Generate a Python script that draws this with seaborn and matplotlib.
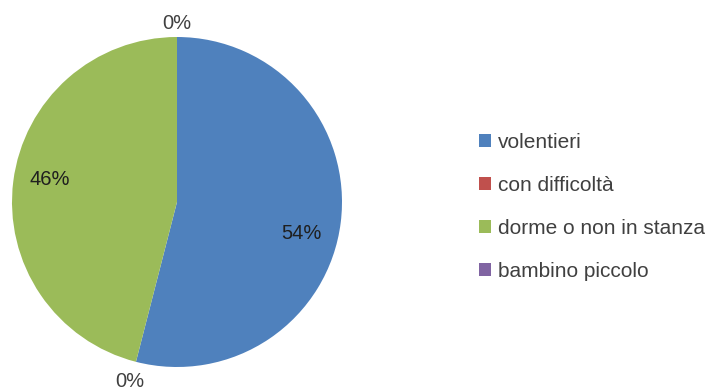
import numpy as np
import matplotlib
matplotlib.use("Agg")
import matplotlib.pyplot as plt
import seaborn as sns
from matplotlib.patches import Patch

categories = ["volentieri", "con difficoltà", "dorme o non in stanza", "bambino piccolo"]
values = [54, 0, 46, 0]
colors = ["#4F81BD", "#C0504D", "#9BBB59", "#8064A2"]

sns.set_theme(style="white")
plt.rcParams["font.family"] = ["Liberation Sans", "DejaVu Sans"]
fsize = 14.5

fig = plt.figure(figsize=(7.12, 3.92), dpi=100)
W, H = 712, 392
cx, cy, R = 177, 202, 165
half = 176
ax = fig.add_axes([(cx - half) / W, (H - cy - half) / H, 2 * half / W, 2 * half / H])

wedges, _ = ax.pie(values, colors=sns.color_palette(colors), startangle=90,
                   counterclock=False, radius=1.0,
                   wedgeprops=dict(linewidth=0))
lim = half / R
ax.set_xlim(-lim, lim)
ax.set_ylim(-lim, lim)
ax.set_aspect("equal")
ax.axis("off")

# percentage labels: inside the wedge for non-empty slices, just outside otherwise
label_nudge = [(-3, -15), (-2, -4), (0, 6), (0, -3)]  # in pixels
total = sum(values)
for w, v, (nx, ny) in zip(wedges, values, label_nudge):
    mid = np.deg2rad((w.theta1 + w.theta2) / 2)
    r = 0.78 if v > 0 else 1.1
    ax.annotate(f"{round(100 * v / total)}%",
                xy=(r * np.cos(mid), r * np.sin(mid)),
                xytext=(nx * 0.72, ny * 0.72), textcoords="offset points",
                ha="center", va="center", fontsize=fsize, annotation_clip=False,
                color="#1f1f1f" if v > 0 else "#404040")

handles = [Patch(facecolor=c, edgecolor="none") for c in colors]
leg = fig.legend(handles, categories, loc="upper left",
                 bbox_to_anchor=(479 / W, 1 - 133 / H), frameon=False,
                 fontsize=15, labelcolor="#404040",
                 handlelength=0.6, handleheight=0.6, handletextpad=0.3,
                 labelspacing=1.15, borderpad=0, borderaxespad=0)

fig.savefig("out.png", dpi=100, facecolor="white")
